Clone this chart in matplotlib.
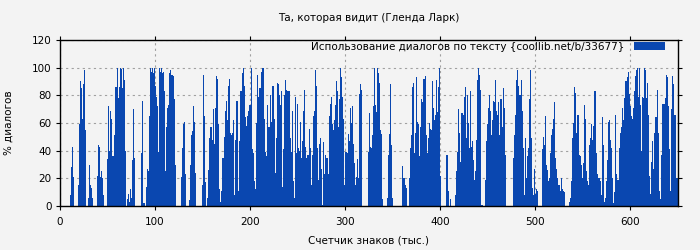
import numpy as np
import matplotlib
matplotlib.use("Agg")
import matplotlib.pyplot as plt
from matplotlib.patches import Patch

TITLE = "Та, которая видит (Гленда Ларк)"
XLABEL = "Счетчик знаков (тыс.)"
YLABEL = "% диалогов"
LEGEND = "Использование диалогов по тексту {coollib.net/b/33677}"

# доля диалогов (%) на каждую тысячу знаков, читано с картинки
dialog_pct = [
    # 0..57
    0, 0, 0, 0, 0, 0, 0, 0, 0, 0,
    2, 8, 28, 43, 21, 0, 0, 0, 0, 15,
    59, 90, 85, 63, 88, 98, 55, 0, 0, 6,
    22, 30, 15, 13, 6, 0, 0, 0, 0, 22,
    44, 43, 21, 25, 20, 8, 0, 0, 0, 34,
    70, 72, 40, 69, 63, 36, 36, 51,
    # 58..119
    86, 86, 100, 78, 86, 100, 99, 85, 100, 91, 40,
    0, 0, 5, 9, 3, 12, 6, 33, 70, 35,
    0, 0, 0, 0, 0, 0, 38, 76, 2, 2,
    0, 0, 14, 27, 25, 65, 100, 97, 100, 96,
    100, 87, 79, 72, 39, 100, 97, 100, 96, 97,
    83, 80, 25, 57, 71, 73, 96, 98, 95, 95, 94,
    # 120..180
    77, 30, 0, 0, 0, 0, 0, 21, 42, 59, 75, 61, 23,
    0, 0, 0, 4, 30, 51, 54, 72, 61, 24,
    0, 0, 0, 0, 0, 0, 15, 62, 95, 65, 17, 0, 6, 26, 49, 57, 57,
    48, 70, 45, 71, 94, 92, 59, 12, 3, 11, 23, 35, 35,
    50, 69, 76, 62, 87, 92, 53, 51,
    # 181..241
    53, 62, 8, 48, 76, 76, 11, 47, 83, 78, 83, 96, 100, 87, 64, 58, 65, 69, 73, 73,
    100, 41, 38, 18, 12, 60, 95, 79, 85, 57, 85, 97, 100, 100, 63, 39, 36, 73, 57, 57,
    80, 61, 87, 87, 63, 24, 49, 89, 88, 87, 80, 73, 83, 14, 41, 80, 91, 84, 83, 83,
    83,
    # 242..302
    49, 39, 69, 18, 6, 79, 38, 74, 54, 42, 40, 61, 35, 47, 69, 84, 43, 35, 37, 37,
    56, 42, 15, 37, 65, 69, 98, 87, 54, 42, 19, 45, 49, 27, 1, 46, 23, 37, 35, 35,
    23, 65, 74, 79, 59, 55, 62, 73, 78, 90, 83, 57, 77, 100, 93, 79, 63, 15, 39, 39,
    38,
    # 303..363
    52, 47, 71, 60, 72, 45, 31, 30, 15, 21, 34, 20, 81, 88, 84, 0, 0, 0, 0, 0,
    0, 39, 67, 43, 42, 51, 72, 69, 100, 73, 68, 100, 96, 89, 55, 52, 5, 0, 0, 0,
    0, 6, 37, 52, 88, 44, 6, 0, 0, 0, 0, 0, 0, 0, 0, 0, 0, 29, 20, 20,
    15,
    # 364..424
    13, 0, 0, 20, 42, 51, 62, 86, 89, 38, 53, 93, 61, 59, 36, 57, 77, 75, 92, 92,
    94, 51, 38, 49, 60, 56, 32, 55, 90, 71, 62, 66, 91, 68, 86, 100, 22, 0, 0, 0,
    0, 0, 37, 37, 11, 0, 29, 5, 0, 0, 0, 0, 8, 25, 39, 70, 53, 32, 67, 67,
    66,
    # 425..485
    79, 86, 49, 80, 60, 29, 42, 83, 43, 47, 33, 19, 25, 48, 91, 100, 95, 84, 1, 1,
    0, 0, 19, 47, 59, 43, 71, 80, 69, 51, 62, 76, 75, 91, 69, 66, 75, 51, 77, 77,
    57, 85, 71, 37, 0, 0, 0, 0, 0, 0, 0, 0, 35, 51, 66, 91, 98, 87, 80, 80,
    91,
    # 486..546
    69, 42, 8, 49, 30, 20, 36, 42, 77, 98, 49, 13, 8, 27, 9, 12, 11, 0, 0, 0,
    0, 41, 50, 44, 42, 65, 30, 26, 18, 20, 38, 51, 56, 63, 75, 35, 27, 20, 15, 15,
    11, 20, 12, 11, 20, 10, 0, 0, 0, 0, 3, 6, 18, 49, 60, 86, 82, 53, 66, 66,
    37, 36,
    # 547..607
    30, 20, 6, 31, 73, 63, 25, 18, 15, 44, 49, 59, 48, 58, 83, 83, 38, 23, 20, 20,
    18, 8, 15, 64, 44, 3, 6, 18, 33, 61, 62, 48, 42, 20, 2, 10, 66, 23, 19, 19,
    42, 53, 60, 57, 71, 62, 78, 90, 90, 93, 97, 81, 72, 65, 63, 71, 83, 94, 98,
    100,
    # 608..649
    79, 100, 98, 73, 40, 79, 78, 100, 98, 78, 89, 66, 22, 9, 32, 47, 27, 53, 64, 64,
    84, 53, 11, 11, 5, 37, 74, 74, 74, 78, 95, 93, 72, 41, 11, 70, 94, 88, 66, 66,
    20, 20,
]

x_ticks = [0, 100, 200, 300, 400, 500, 600]
y_ticks = [0, 20, 40, 60, 80, 100, 120]

BG = "#f3f3f3"
BAR = "#0a47b0"

plt.rcParams["font.family"] = "DejaVu Sans"
plt.rcParams["font.size"] = 7.5

fig = plt.figure(figsize=(7.0, 2.5), dpi=100)
fig.patch.set_facecolor(BG)
ax = fig.add_axes([60 / 700, 44 / 250, 618 / 700, 166 / 250])
ax.set_facecolor(BG)

pos = np.arange(len(dialog_pct))
ax.bar(pos, dialog_pct, width=1.0, align="edge", color=BAR, linewidth=0, zorder=2)

ax.set_xlim(0, 650.5)
ax.set_ylim(0, 120)
ax.set_xticks(x_ticks)
ax.set_yticks(y_ticks)
ax.set_axisbelow(True)
ax.grid(True, color="#a0a0a0", linestyle=(0, (2, 3)), linewidth=0.8)
ax.tick_params(direction="out", length=3, width=0.8, top=True, right=True,
               labelsize=7.5)
ax.tick_params(axis="x", pad=5)
ax.tick_params(axis="y", pad=3)
for s in ax.spines.values():
    s.set_linewidth(1.0)
    s.set_zorder(4)

ax.set_title(TITLE, fontsize=7.5, pad=14)
ax.set_xlabel(XLABEL, fontsize=7.5, labelpad=6)
ax.set_ylabel(YLABEL, fontsize=7.5, labelpad=13)

handle = Patch(facecolor=BAR, edgecolor="none")
ax.legend([handle], [LEGEND], loc="upper right", bbox_to_anchor=(0.979, 0.99),
          markerfirst=False, frameon=False, handlelength=3.0, handleheight=0.8,
          handletextpad=0.9, borderaxespad=0, borderpad=0, fontsize=7.5)

fig.savefig("out.png", dpi=100, facecolor=BG)
